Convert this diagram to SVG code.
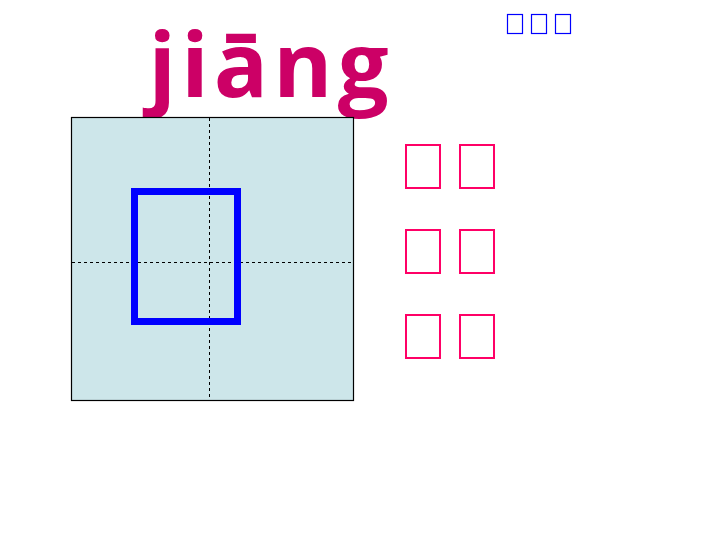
<svg xmlns="http://www.w3.org/2000/svg" width="720" height="540" viewBox="0 0 720 540">
<style>
.pinyin{font-family:"Open Sans","Noto Sans","DejaVu Sans",sans-serif;font-weight:bold;font-size:90px;fill:#CC0066}
.grid{fill:#CDE6EA;stroke:#000;stroke-width:1.2}
.guide{stroke:#000;stroke-width:1;stroke-dasharray:3,3;fill:none}
.big{fill:none;stroke:#0000FF;stroke-width:7}
.pink{fill:none;stroke:#FF0066;stroke-width:2}
.small{fill:none;stroke:#0000FF;stroke-width:1.2}
</style>
<rect width="720" height="540" fill="#fff"/>
<g id="pinyin"><text class="pinyin" x="268.5" y="97" text-anchor="middle" textLength="240" lengthAdjust="spacing">jiāng</text></g>
<g id="small-boxes">
<rect class="small" x="507.5" y="14.5" width="15" height="19"/>
<rect class="small" x="531.5" y="14.5" width="15" height="19"/>
<rect class="small" x="555.5" y="14.5" width="15" height="19"/>
</g>
<g id="grid">
<rect class="grid" x="71.5" y="117.5" width="282" height="283"/>
<line class="guide" x1="209.5" y1="118" x2="209.5" y2="400"/>
<line class="guide" x1="72" y1="262.5" x2="353" y2="262.5"/>
</g>
<g id="character"><rect class="big" x="134.5" y="191.5" width="103" height="130"/></g>
<g id="words">
<rect class="pink" x="406" y="145" width="34" height="43"/>
<rect class="pink" x="460" y="145" width="34" height="43"/>
<rect class="pink" x="406" y="230" width="34" height="43"/>
<rect class="pink" x="460" y="230" width="34" height="43"/>
<rect class="pink" x="406" y="315" width="34" height="43"/>
<rect class="pink" x="460" y="315" width="34" height="43"/>
</g>
</svg>
